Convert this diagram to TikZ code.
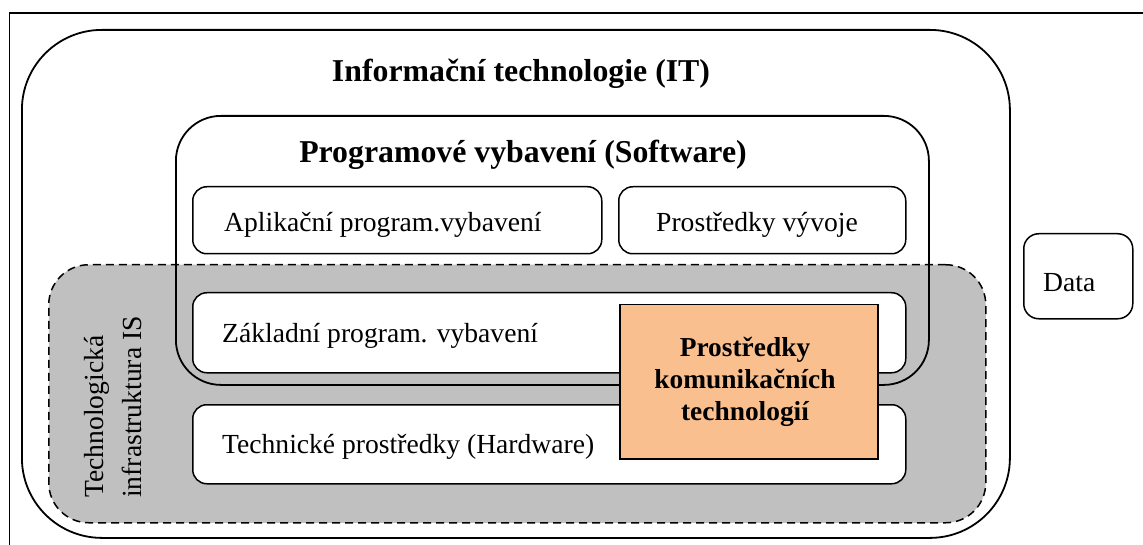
\documentclass[tikz,border=0pt]{standalone}
\usepackage{fontspec}
\setmainfont{Liberation Serif}
\definecolor{grayfill}{RGB}{192,192,192}
\definecolor{peach}{RGB}{250,191,143}
\begin{document}
\begin{tikzpicture}[x=1pt,y=-1pt,
  bigbox/.style={draw=black, line width=1.8pt, rectangle, inner sep=0pt, anchor=north west},
  smallbox/.style={draw=black, line width=1.5pt, fill=white, rounded corners=14pt, rectangle, inner sep=0pt, anchor=north west},
  commbox/.style={draw=black, line width=1.5pt, fill=peach, rectangle, inner sep=0pt, anchor=north west},
  infrabox/.style={draw=black, line width=1.5pt, dash pattern=on 8pt off 5pt, fill=grayfill, rounded corners=40pt, rectangle, inner sep=0pt, anchor=north west},
  titletext/.style={font=\fontsize{31.8}{38}\selectfont\bfseries, inner sep=0pt, anchor=base},
  plaintext/.style={font=\fontsize{27.6}{33}\selectfont, inner sep=0pt, anchor=base west},
]
\useasboundingbox (0,0) rectangle (1143,545);
\clip (0,0) rectangle (1143,545);
% outer frame
\node[bigbox, minimum width=1170pt, minimum height=570pt] (frame) at (8.5,12.5) {};
% IT box
\node[bigbox, rounded corners=80pt, minimum width=988pt, minimum height=508pt] (it) at (21,29) {};
% technological infrastructure (grey, dashed)
\node[infrabox, minimum width=937pt, minimum height=258pt] (infra) at (48,264) {};
% software box
\node[bigbox, rounded corners=45pt, minimum width=753pt, minimum height=269pt] (sw) at (175,115) {};
% inner boxes
\node[smallbox, minimum width=409pt, minimum height=67pt] (apl) at (192,186) {};
\node[smallbox, minimum width=287pt, minimum height=67pt] (dev) at (618,186) {};
\node[smallbox, minimum width=713pt, minimum height=80pt] (zak) at (192,292) {};
\node[smallbox, minimum width=713pt, minimum height=79pt] (hw) at (192,404) {};
\node[commbox, minimum width=258pt, minimum height=154pt] (comm) at (619,304) {};
\node[smallbox, rounded corners=15pt, minimum width=109pt, minimum height=85pt] (data) at (1023,233) {};
% texts
\node[titletext] (ittitle) at (521,82) {Informační technologie (IT)};
\node[titletext] (swtitle) at (523,163) {Programové vybavení (Software)};
\node[plaintext] (apltext) at (224,232) {Aplikační program.vybavení};
\node[plaintext, anchor=base] (devtext) at (757,232) {Prostředky vývoje};
\node[plaintext] (zaktext) at (222,342) {Základní program. vybavení};
\node[plaintext] (hwtext) at (222,453) {Technické prostředky (Hardware)};
\node[plaintext] (datatext) at (1043,292) {Data};
\node[plaintext, rotate=90] (infratext1) at (103,498) {Technologická};
\node[plaintext, rotate=90] (infratext2) at (141,498) {infrastruktura IS};
\node[inner sep=0pt, anchor=base, font=\fontsize{27.4}{32}\selectfont\bfseries] (commtext) at (745,356)
  {\begin{tabular}[t]{@{}c@{}}Prostředky\\komunikačních\\technologií\end{tabular}};
\end{tikzpicture}
\end{document}
